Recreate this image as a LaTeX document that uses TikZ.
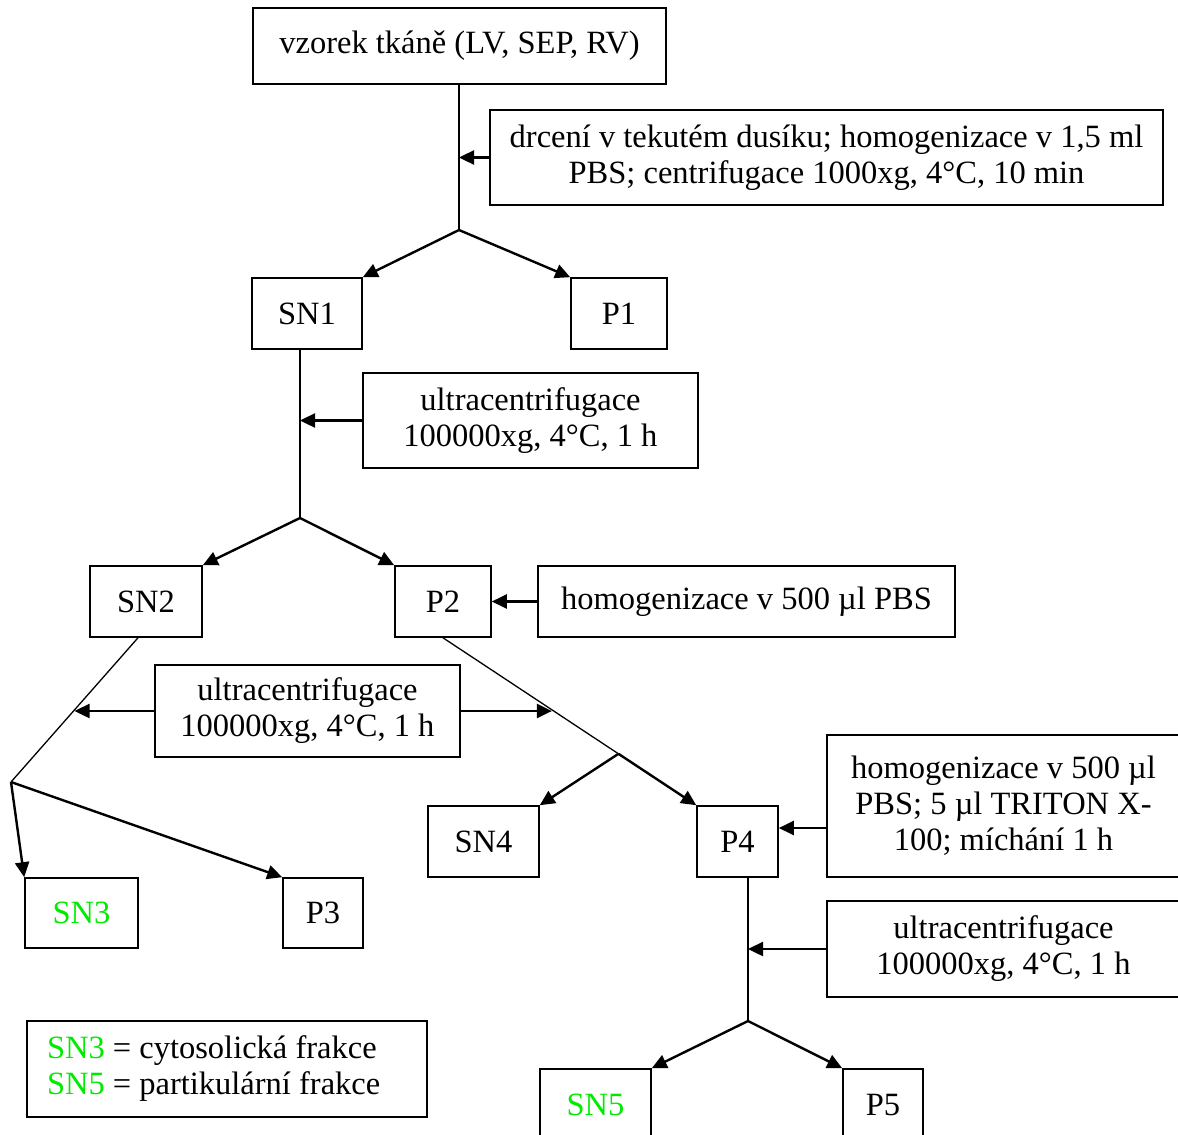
\documentclass[tikz,border=0pt]{standalone}
\usepackage{fontspec}
\setmainfont{Liberation Serif}
\usetikzlibrary{arrows.meta,calc}
\definecolor{lgreen}{RGB}{0,235,0}
\begin{document}
\begin{tikzpicture}[x=1pt,y=-1pt,
  box/.style={draw,line width=1.6pt,inner sep=0pt,align=center,font=\fontsize{32.5}{36}\selectfont},
  ln/.style={line width=1.8pt},
  thinln/.style={line width=1.3pt},
  arr/.style={line width=2.4pt,-{Triangle[length=15pt,width=14pt]}},
]
\useasboundingbox (0,0) rectangle (1178,1135);
\clip (0,0) rectangle (1178,1135);

% boxes
\node[box,minimum width=413pt,minimum height=76pt] (top) at (459.5,46) {vzorek tkáně (LV, SEP, RV)};
\node[box,minimum width=673pt,minimum height=95pt] (drc) at (826.5,157.5) {drcení v tekutém dusíku; homogenizace v 1,5 ml\\PBS; centrifugace 1000xg, 4°C, 10 min};
\node[box,minimum width=110pt,minimum height=71pt] (sn1) at (307,313.5) {SN1};
\node[box,minimum width=96pt,minimum height=71pt] (p1) at (619,313.5) {P1};
\node[box,minimum width=335pt,minimum height=95pt] (uc1) at (530.5,420.5) {ultracentrifugace\\100000xg, 4°C, 1 h};
\node[box,minimum width=112pt,minimum height=71pt] (sn2) at (146,601.5) {SN2};
\node[box,minimum width=96pt,minimum height=71pt] (p2) at (443,601.5) {P2};
\node[box,minimum width=417pt,minimum height=71pt] (hom1) at (746.5,601.5) {homogenizace v 500 µl PBS};
\node[box,minimum width=305pt,minimum height=92pt] (uc2) at (307.5,711) {ultracentrifugace\\100000xg, 4°C, 1 h};
\node[box,minimum width=111pt,minimum height=71pt] (sn4) at (483.5,841.5) {SN4};
\node[box,minimum width=81pt,minimum height=71pt] (p4) at (737.5,841.5) {P4};
\node[box,minimum width=353pt,minimum height=142pt] (hom2) at (1003.5,806) {homogenizace v 500 µl\\PBS; 5 µl TRITON X-\\100; míchání 1 h};
\node[box,minimum width=353pt,minimum height=96pt] (uc3) at (1003.5,949) {ultracentrifugace\\100000xg, 4°C, 1 h};
\node[box,minimum width=113pt,minimum height=70pt] (sn3) at (81.5,913) {\textcolor{lgreen}{SN3}};
\node[box,minimum width=80pt,minimum height=70pt] (p3) at (323,913) {P3};
\node[box,minimum width=111pt,minimum height=72pt] (sn5) at (595.5,1105) {\textcolor{lgreen}{SN5}};
\node[box,minimum width=80pt,minimum height=72pt] (p5) at (883,1105) {P5};
\node[box,minimum width=400pt,minimum height=96pt,align=left,text width=360pt] (leg) at (227,1069)
  {\spaceskip=0pt\xspaceskip=0pt\relax\textcolor{lgreen}{SN3} = cytosolická frakce\\\textcolor{lgreen}{SN5} = partikulární frakce};

% split points
\coordinate (s1) at (459,230);
\coordinate (s2) at (300,518);
\coordinate (s3) at (11,782);
\coordinate (s5) at (748,1021);
\coordinate (p2b) at ($(p2.south)+(0,0)$);
\coordinate (sn2b) at ($(sn2.south)+(-8,0)$);
\coordinate (s4) at ($(p2b)!0.693!(p4.north west)$);
\coordinate (hitR) at ($(p2b)!0.43!(p4.north west)$);
\coordinate (hitL) at ($(sn2b)!0.5!(s3)$);

% connectors
\draw[ln] (s1 |- top.south) -- (s1);
\draw[arr] (drc.west) -- (drc.west -| s1);
\draw[arr] (s1) -- (sn1.north east);
\draw[arr] (s1) -- (p1.north west);

\draw[ln] (s2 |- sn1.south) -- (s2);
\draw[arr] (uc1.west) -- (uc1.west -| s2);
\draw[arr] (s2) -- (sn2.north east);
\draw[arr] (s2) -- (p2.north west);
\draw[arr] (hom1.west) -- (p2.east);

\draw[thinln] (sn2b) -- (s3);
\draw[arr] (uc2.west) -- (uc2.west -| hitL);
\draw[arr] (s3) -- (sn3.north west);
\draw[arr] (s3) -- (p3.north west);

\draw[thinln] (p2b) -- (s4);
\draw[arr] (s4) -- (p4.north west);
\draw[arr] (uc2.east) -- (uc2.east -| hitR);
\draw[arr] (s4) -- (sn4.north east);

\draw[arr] ([yshift=-22pt]hom2.west) -- ([yshift=-22pt]hom2.west -| p4.east);
\draw[ln] (s5 |- p4.south) -- (s5);
\draw[arr] (uc3.west) -- (uc3.west -| s5);
\draw[arr] (s5) -- (sn5.north east);
\draw[arr] (s5) -- (p5.north west);
\end{tikzpicture}
\end{document}
